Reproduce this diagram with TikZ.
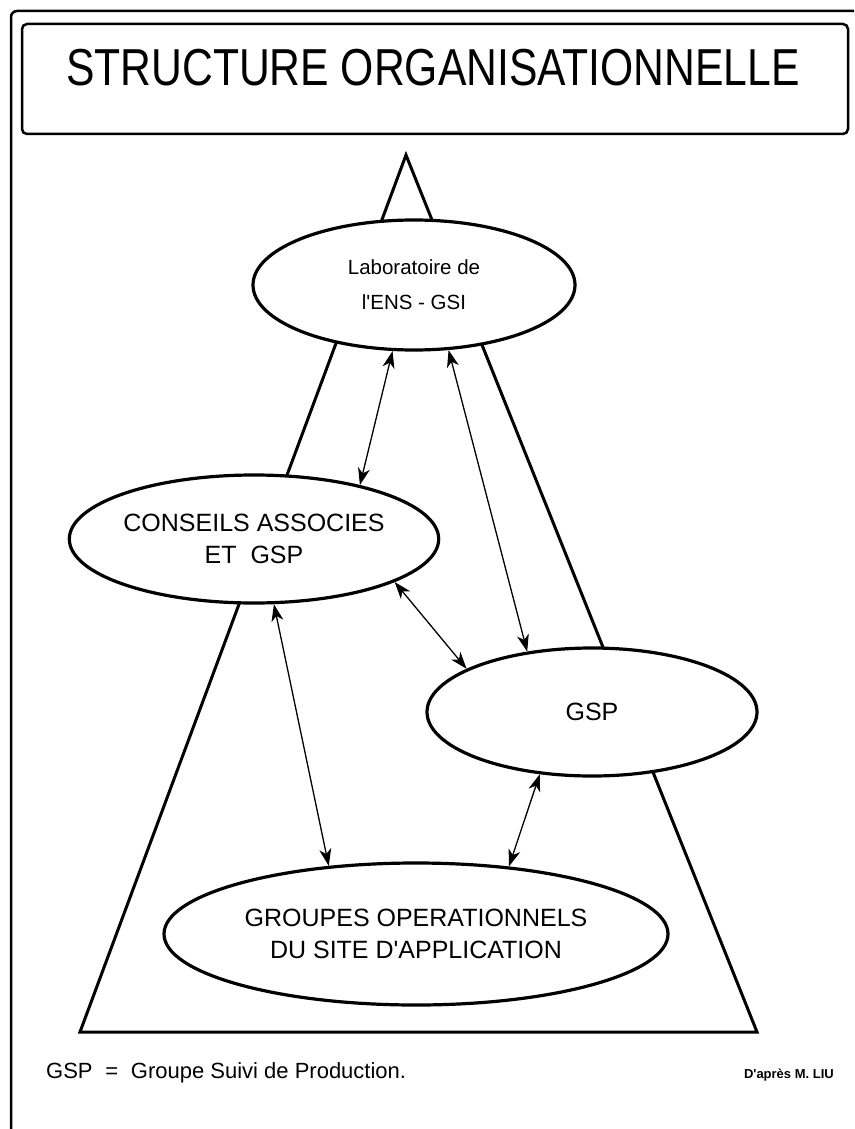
\documentclass[tikz,border=0pt]{standalone}
\usepackage{fontspec}
\setmainfont{Liberation Sans}
\newfontfamily\narrowfont[FakeStretch=0.82]{Liberation Sans}
\usetikzlibrary{shapes.geometric, arrows.meta, positioning}
\tikzset{
    x=1pt, y=-1pt, % one unit for one pixel of the scan, y going down
    >={Stealth[length=17pt, width=12pt, inset=5pt]}, % filled arrow heads
    thickline/.style={line width=3pt, line join=miter}, % the pyramid
    unit/.style={ellipse, draw, line width=3.2pt, fill=white, align=center,
        inner sep=0pt, font=\fontsize{25}{32}\selectfont}, % every group of the structure
    link/.style={<->, line width=1.3pt}, % exchanges between the groups
    titlebox/.style={draw, line width=2.5pt, rounded corners=5pt,
        minimum width=826pt, minimum height=110pt},
}

\begin{document}
\begin{tikzpicture}
    \useasboundingbox (0,0) rectangle (854,1129);
    % page frame and title
    \draw[line width=2.5pt, rounded corners=6pt] (854,11) -- (11,11) -- (11,1129);
    \node[titlebox] (title) at (435,79) {};
    \node[inner sep=0pt, font=\narrowfont\fontsize{52}{60}\selectfont] (head) at (433,68) {STRUCTURE ORGANISATIONNELLE};
    % pyramid behind the groups
    \draw[thickline] (406,155) -- (757,1032) -- (80,1032) -- cycle;
    \node[unit, minimum width=322pt, minimum height=130pt, font=\fontsize{20.5}{35}\selectfont] (lab) at (414,285) {Laboratoire de\\l\textquotesingle ENS - GSI};
    \node[unit, minimum width=330pt, minimum height=128pt] (cons) at (254,539) {CONSEILS ASSOCIES\\ET\ \ GSP};
    \node[unit, minimum width=330pt, minimum height=128pt] (gsp) at (592,712) {GSP};
    \node[unit, minimum width=504pt, minimum height=142pt] (ops) at (416,934) {GROUPES OPERATIONNELS\\DU SITE D\textquotesingle APPLICATION};
    % links
    \draw[link] (lab.-108) -- (cons.27);
    \draw[link] (lab.-62) -- (gsp.137);
    \draw[link] (cons.-17) -- (gsp.161);
    \draw[link] (cons.-73) -- (ops.142);
    \draw[link] (gsp.-130) -- (ops.36);
    % notes
    \node[anchor=west, inner sep=0pt, font=\fontsize{22}{26}\selectfont] (note) at (46,1073) {GSP\hspace*{.3em} = \hspace*{.3em}Groupe Suivi de Production.};
    \node[anchor=east, inner sep=0pt, font=\bfseries\fontsize{13}{16}\selectfont] (source) at (834,1075) {D\textquotesingle après M. LIU};
\end{tikzpicture}
\end{document}
